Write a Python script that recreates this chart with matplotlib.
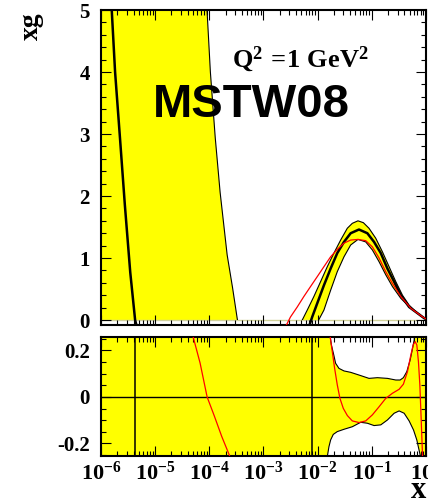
import numpy as np
import matplotlib
matplotlib.use("Agg")
import matplotlib.pyplot as plt
from matplotlib.patches import Rectangle
from matplotlib.ticker import LogLocator, MultipleLocator, NullFormatter

# ── gluon xg at Q^2 = 1 GeV^2 (log10 x, xg) ───────────────
central_logx = [-5.90, -5.80, -5.74, -5.65, -5.56, -5.46, -5.37, -5.25, -4.5, -3.5,
                -2.6, -2.160, -2.099, -2.006, -1.883, -1.759, -1.636, -1.512, -1.389,
                -1.235, -1.081, -0.957, -0.833, -0.710, -0.587, -0.463, -0.309,
                -0.154, -0.031, 0.0]
central_xg = [6.5, 4.97, 4.00, 2.94, 1.86, 0.77, 0.0, -0.4, -1.0, -1.0,
              -0.6, -0.11, 0.05, 0.27, 0.56, 0.83, 1.08, 1.26, 1.40,
              1.46, 1.40, 1.26, 1.08, 0.83, 0.62, 0.40, 0.21,
              0.11, 0.03, 0.02]

band_up_logx = [-6.0, -5.0, -4.3, -4.04, -3.98, -3.89, -3.80, -3.67, -3.57, -3.48,
                -3.3, -2.8, -2.35, -2.283, -2.191, -2.068, -1.944, -1.821, -1.698,
                -1.574, -1.451, -1.358, -1.254, -1.154, -1.050, -0.926, -0.802,
                -0.679, -0.556, -0.432, -0.309, -0.154, -0.031, 0.0]
band_up_xg = [12.0, 9.0, 6.5, 4.97, 4.00, 2.94, 2.06, 1.05, 0.52, 0.0,
              -0.4, -0.5, -0.15, 0.0, 0.16, 0.38, 0.62, 0.86, 1.08,
              1.29, 1.48, 1.56, 1.60, 1.57, 1.48, 1.32, 1.10,
              0.86, 0.62, 0.40, 0.24, 0.11, 0.03, 0.02]

band_lo_logx = [-6.0, -5.0, -4.0, -3.0, -2.5, -2.1, -1.98, -1.883, -1.759, -1.636,
                -1.512, -1.389, -1.254, -1.111, -0.988, -0.864, -0.741, -0.617,
                -0.463, -0.278, -0.061, 0.0]
band_lo_xg = [-20.0, -8.0, -3.0, -1.5, -0.6, -0.15, 0.0, 0.16, 0.48, 0.78,
              1.02, 1.21, 1.30, 1.26, 1.13, 0.94, 0.73, 0.54,
              0.35, 0.19, 0.05, 0.01]

red_logx = [-2.70, -2.593, -2.500, -2.376, -2.253, -2.130, -2.006, -1.883, -1.759,
            -1.636, -1.512, -1.389, -1.254, -1.111, -0.988, -0.864, -0.741,
            -0.617, -0.463, -0.278, -0.061, 0.0]
red_xg = [-0.3, -0.11, 0.05, 0.21, 0.38, 0.54, 0.70, 0.86, 1.02,
          1.14, 1.24, 1.29, 1.30, 1.28, 1.18, 1.00, 0.78,
          0.59, 0.38, 0.19, 0.05, 0.02]

# ── ratio panel (log10 x, ratio - 1) ──────────────────────
ratio_up_logx = [-6.0, -1.85, -1.772, -1.745, -1.70, -1.667, -1.605, -1.512, -1.389,
                 -1.204, -1.05, -0.895, -0.71, -0.556, -0.475, -0.415, -0.352,
                 -0.29, -0.246, -0.216, -0.15, 0.0]
ratio_up = [5.0, 0.6, 0.267, 0.224, 0.18, 0.145, 0.123, 0.112, 0.106,
            0.092, 0.080, 0.083, 0.080, 0.073, 0.073, 0.083, 0.109,
            0.159, 0.209, 0.245, 0.5, 1.0]

ratio_lo_logx = [-6.0, -1.87, -1.82, -1.79, -1.759, -1.71, -1.636, -1.512, -1.358,
                 -1.204, -1.08, -0.957, -0.833, -0.71, -0.586, -0.494, -0.401,
                 -0.309, -0.228, -0.167, -0.105, -0.06, 0.0]
ratio_lo = [-5.0, -0.6, -0.256, -0.214, -0.185, -0.161, -0.149, -0.139, -0.128,
            -0.109, -0.113, -0.123, -0.120, -0.099, -0.070, -0.060, -0.070,
            -0.103, -0.142, -0.185, -0.25, -0.5, -1.0]

red_ratio_logx = [-4.40, -4.30, -4.17, -4.04, -3.91, -3.77, -3.63, -3.50, np.nan,
                  -1.85, -1.772, -1.728, -1.685, -1.636, -1.587, -1.525, -1.45,
                  -1.358, -1.235, -1.111, -0.988, -0.864, -0.741, -0.617, -0.494,
                  -0.415, -0.34, -0.278, -0.234, -0.198, -0.167, -0.137, -0.111,
                  -0.087, -0.061, -0.04]
red_ratio = [0.35, 0.26, 0.146, 0.0, -0.08, -0.17, -0.25, -0.35, np.nan,
             0.5, 0.267, 0.195, 0.123, 0.052, -0.006, -0.049, -0.080,
             -0.103, -0.110, -0.103, -0.077, -0.042, -0.006, 0.016, 0.033,
             0.055, 0.109, 0.180, 0.224, 0.238, 0.224, 0.152, 0.052,
             -0.092, -0.257, -0.5]

# zeros of the central fit, where the ratio blows up
ratio_poles_logx = [-5.37, -2.10]

YTOP = 5.0
SERIF = "Liberation Serif"

plt.rcParams["mathtext.fontset"] = "custom"
plt.rcParams["mathtext.rm"] = "Liberation Serif:bold"
plt.rcParams["mathtext.bf"] = "Liberation Serif:bold"
plt.rcParams["mathtext.it"] = "Liberation Serif:bold"


def lx(v):
    return 10.0 ** np.asarray(v, dtype=float)


def style_axis(ax):
    ax.set_xscale("log")
    ax.set_xlim(1e-6, 1.0)
    ax.xaxis.set_major_locator(LogLocator(base=10, numticks=10))
    ax.xaxis.set_minor_locator(LogLocator(base=10, subs=np.arange(2, 10), numticks=12))
    ax.xaxis.set_minor_formatter(NullFormatter())
    ax.tick_params(which="both", direction="in", top=True, right=True, width=0.8)
    ax.tick_params(which="major", length=7)
    ax.tick_params(which="minor", length=3.5)
    ax.tick_params(axis="y", pad=8)
    for s in ax.spines.values():
        s.set_linewidth(1.5)
    for lab in ax.get_yticklabels() + ax.get_xticklabels():
        lab.set_fontfamily(SERIF)
        lab.set_fontweight("bold")


fig = plt.figure(figsize=(4.28, 4.98), dpi=100)
ax1 = fig.add_axes([0.236, 0.3474, 0.759, 0.6325])
ax2 = fig.add_axes([0.236, 0.0843, 0.759, 0.239])

# ── top panel: xg ─────────────────────────────────────────
ax1.set_ylim(-0.08, YTOP)
clip1 = Rectangle((1e-6, 0.0), 1.0 - 1e-6, YTOP, transform=ax1.transData)

poly_x = np.concatenate([lx(band_up_logx), lx(band_lo_logx)[::-1]])
poly_y = np.concatenate([band_up_xg, band_lo_xg[::-1]])
band = ax1.fill(poly_x, poly_y, color="#ffff00", lw=0, zorder=1)[0]
band.set_clip_path(clip1)
ax1.axhline(0.0, color="#d2d29a", lw=1.0, zorder=1.5)
for bx, by in ((band_up_logx, band_up_xg), (band_lo_logx, band_lo_xg)):
    edge, = ax1.plot(lx(bx), by, color="black", lw=0.8, zorder=2)
    edge.set_clip_path(clip1)
ax1.plot(lx(central_logx), central_xg, color="black", lw=1.8, zorder=3)
ax1.plot(lx(red_logx), red_xg, color="#ff0000", lw=0.9, zorder=4)

ax1.set_yticks(range(6))
ax1.set_yticklabels([str(i) for i in range(6)], fontsize=15)
ax1.yaxis.set_minor_locator(MultipleLocator(0.2))
ax1.tick_params(labelbottom=False)
style_axis(ax1)

# ── bottom panel: ratio ───────────────────────────────────
ax2.set_ylim(-0.254, 0.258)
rpoly_x = np.concatenate([lx(ratio_up_logx), lx(ratio_lo_logx)[::-1]])
rpoly_y = np.concatenate([ratio_up, ratio_lo[::-1]])
ax2.fill(rpoly_x, rpoly_y, color="#ffff00", lw=0, zorder=1)
ax2.plot(lx(ratio_up_logx), ratio_up, color="black", lw=0.8, zorder=2)
ax2.plot(lx(ratio_lo_logx), ratio_lo, color="black", lw=0.8, zorder=2)
for p in ratio_poles_logx:
    ax2.axvline(10.0 ** p, color="black", lw=1.1, zorder=2)
ax2.axhline(0.0, color="black", lw=1.0, zorder=2)
ax2.plot(lx(red_ratio_logx), red_ratio, color="#ff0000", lw=0.9, zorder=4)

ax2.set_yticks([-0.2, 0.0, 0.2])
ax2.set_yticklabels(["-0.2", "0", "0.2"], fontsize=15)
ax2.yaxis.set_minor_locator(MultipleLocator(0.05))
decades = [-6, -5, -4, -3, -2, -1, 0]
ax2.set_xticks(lx(decades))
ax2.set_xticklabels([r"$\mathbf{10^{%d}}$" % d if d < 0 else r"$\mathbf{1}$"
                     for d in decades], fontsize=16)
ax2.tick_params(axis="x", pad=4)
style_axis(ax2)

# ── labels ────────────────────────────────────────────────
fig.text(31 / 428, 1 - 26 / 498, "xg", rotation=90, ha="center", va="center",
         fontsize=20, fontfamily=SERIF, fontweight="bold")
fig.text(411 / 428, 0.0, "x", ha="left", va="baseline",
         fontsize=22, fontfamily=SERIF, fontweight="bold")
fig.text(232 / 428, 1 - 67 / 498, r"$\mathbf{Q^{2}}\,{=}\!\mathbf{1\ GeV^{2}}$",
         ha="left", va="baseline", fontsize=19)
fig.text(251 / 428, 1 - 117 / 498, "MSTW08", ha="center", va="baseline",
         fontsize=34, fontfamily="Liberation Sans", fontweight="bold")

fig.savefig("out.png", dpi=100)
